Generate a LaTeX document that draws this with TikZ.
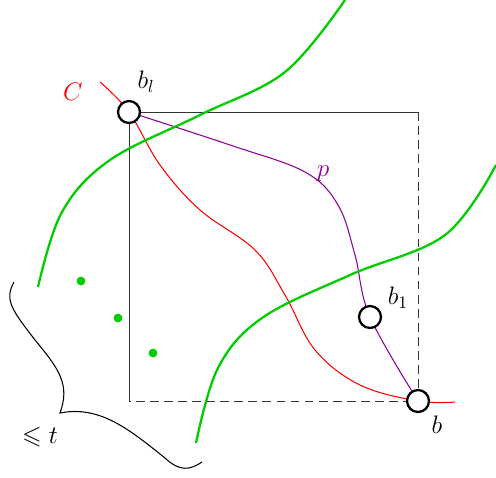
\documentclass[tikz,border=0pt]{standalone}
\usepackage{amsmath,amssymb}
\usetikzlibrary{positioning,calc}
\definecolor{pathpurple}{RGB}{140,0,150}

\begin{document}
\begin{tikzpicture}[
    x=0.02cm, y=-0.02cm,
    vtx/.style={draw, circle, line width=1.3pt, fill=white, minimum size=12.5pt, inner sep=0pt},
    lbl/.style={font=\Large, inner sep=0pt},
    gcurve/.style={line width=1.3pt, green!80!black},
    gdot/.style={circle, fill=green!80!black, minimum size=5pt, inner sep=0pt},
    side/.style={black!80, line width=0.5pt},
    dside/.style={side, dash pattern=on 5pt off 3pt}
]
    \useasboundingbox (0,0) rectangle (496,477);

    % corners of the square
    \coordinate (tl) at (129,112);
    \coordinate (tr) at (418,112);
    \coordinate (bl0) at (129,401);
    \coordinate (br) at (418,401);

    \draw[side] (bl0) -- (tl) -- (tr);
    \draw[dside] (tr) -- (br) -- (bl0);

    % the curve C
    \coordinate (cstart) at (100,82);
    \coordinate (cend) at (455,402);
    \draw[red, line width=0.6pt] plot[smooth, tension=0.6] coordinates {
        (cstart) (tl) (160,165) (200,210) (255,250) (285,295) (315,350) (360,385) (br) (cend)};

    % the path p
    \draw[pathpurple, line width=0.6pt] plot[smooth, tension=0.6] coordinates {
        (tl) (230,145) (305,172) (338,205) (355,255) (370,317) (br)};

    % green curves
    \draw[gcurve] plot[smooth, tension=0.6] coordinates {
        (38,287) (62,212) (110,160) (200,115) (285,72) (345,0)};
    \draw[gcurve] plot[smooth, tension=0.6] coordinates {
        (196,443) (218,368) (262,318) (350,275) (445,235) (496,165)};

    \node[gdot] (d1) at (81,281) {};
    \node[gdot] (d2) at (118,318) {};
    \node[gdot] (d3) at (153,353) {};

    % brace
    \draw[line width=0.6pt] (14,282) .. controls (4,300) and (12,310) .. (35,340)
        .. controls (60,370) and (70,385) .. (60,413)
        .. controls (100,405) and (130,430) .. (165,458)
        .. controls (180,472) and (190,470) .. (202,462);

    % vertices
    \node[vtx] (vbl) at (tl) {};
    \node[vtx] (vb1) at (370,317) {};
    \node[vtx] (vb) at (br) {};

    % labels
    \node[lbl, red] (lC) at (73,92) {$C$};
    \node[lbl] (lbl) at (146,82) {$b_l$};
    \node[lbl] (lb1) at (398,298) {$b_1$};
    \node[lbl] (lb) at (437,425) {$b$};
    \node[lbl, pathpurple] (lp) at (323,174) {$p$};
    \node[lbl] (lt) at (40,437) {$\leqslant t$};
\end{tikzpicture}
\end{document}
